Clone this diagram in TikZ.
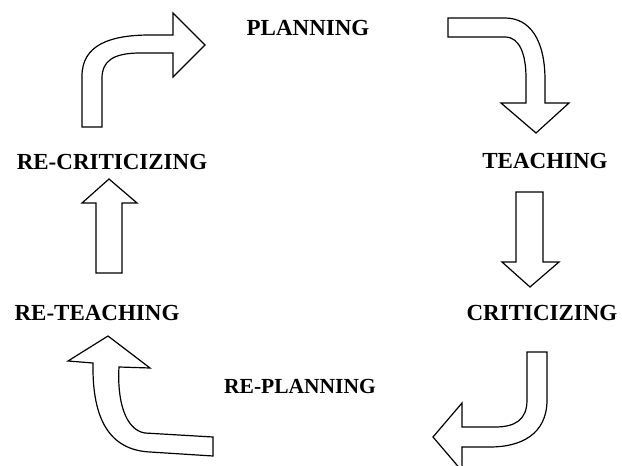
\documentclass[tikz,border=0pt]{standalone}
\usepackage{fontspec}
\setmainfont{Liberation Serif}
\usepackage{xcolor}
\usepackage{tikz}
\definecolor{ink}{HTML}{000000}
\definecolor{paper}{HTML}{FFFFFF}
\tikzset{
  blockArrow/.style={draw=ink, fill=paper, line width=1.2pt, line join=miter},
  stageLbl/.style={text=ink, font=\bfseries\fontsize{23}{26}\selectfont, inner sep=0pt},
  smallLbl/.style={stageLbl, font=\bfseries\fontsize{21.5}{24}\selectfont},
}

\begin{document}
\begin{tikzpicture}[x=1pt, y=-1pt]
  \useasboundingbox (0,0) rectangle (622,466);
  \clip (0,0) rectangle (622,466);

  % stage labels
  \node[stageLbl] (plan)    at (308,28)  {PLANNING};
  \node[stageLbl] (teach)   at (545,161) {TEACHING};
  \node[stageLbl] (crit)    at (542,313) {CRITICIZING};
  \node[smallLbl] (replan)  at (300,386) {RE-PLANNING};
  \node[stageLbl] (reteach) at (97,313)  {RE-TEACHING};
  \node[stageLbl] (recrit)  at (112,162) {RE-CRITICIZING};

  % top left: bend up and right
  \draw[blockArrow] (82,127) -- (82,76) .. controls (82,45) and (110,35) .. (150,35)
    -- (173,35) -- (173,13) -- (205,45) -- (173,77) -- (173,53) -- (140,53)
    .. controls (112,53) and (102,62) .. (102,78) -- (102,127) -- cycle;

  % top right: bend right and down
  \draw[blockArrow] (448,18) -- (505,18) .. controls (530,18) and (545,40) .. (545,80)
    -- (545,103) -- (569,103) -- (536,133) -- (501,103) -- (526,103) -- (526,78)
    .. controls (526,55) and (520,37) .. (505,37) -- (448,37) -- cycle;

  % right: straight down
  \draw[blockArrow] (516,192) -- (543,192) -- (543,262) -- (559,262) -- (530,287)
    -- (502,262) -- (516,262) -- cycle;

  % bottom right: bend down and left
  \draw[blockArrow] (527,352) -- (547,352) -- (547,400) .. controls (547,435) and (520,447) .. (490,447)
    -- (462,447) -- (462,471) -- (433,437) -- (462,403) -- (462,427) -- (495,427)
    .. controls (515,427) and (527,420) .. (527,400) -- cycle;

  % bottom left: bend left and up
  \draw[blockArrow] (93,363) .. controls (92,420) and (110,450) .. (150,452) -- (213,456)
    -- (213,437) -- (145,433) .. controls (125,430) and (117,400) .. (119,367)
    -- (150,368) -- (108,336) -- (68,361) -- cycle;

  % left: straight up
  \draw[blockArrow] (96,273) -- (96,203) -- (82,203) -- (109,179) -- (137,203)
    -- (122,203) -- (122,273) -- cycle;
\end{tikzpicture}
\end{document}
